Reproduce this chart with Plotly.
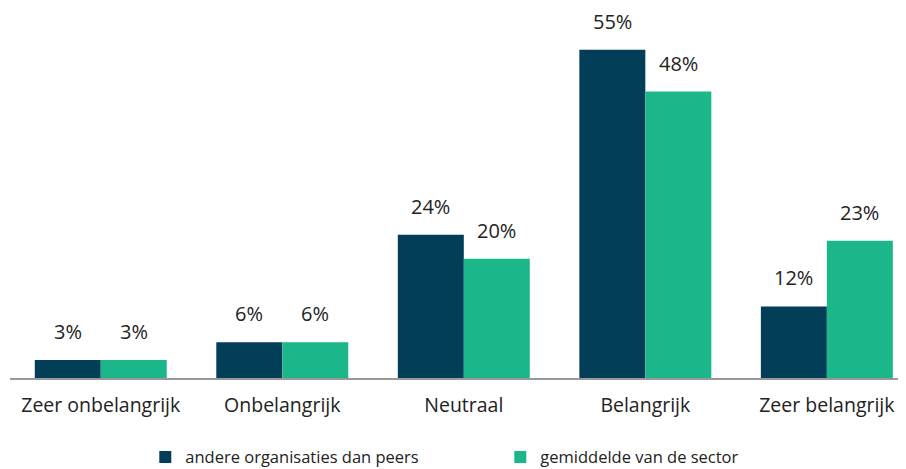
import plotly.graph_objects as go

categories = ["Zeer onbelangrijk", "Onbelangrijk", "Neutraal", "Belangrijk", "Zeer belangrijk"]
series_names = ["andere organisaties dan peers", "gemiddelde van de sector"]
peers_other = [3, 6, 24, 55, 12]
sector_avg = [3, 6, 20, 48, 23]
colors = ["#023E58", "#1CB68B"]
FONT = "Open Sans"

fig = go.Figure()
for name, vals, col in zip(series_names, [peers_other, sector_avg], colors):
    fig.add_trace(go.Bar(x=categories, y=vals, name=name, marker=dict(color=col, line=dict(width=0))))

annotations = []
for vals, shift in zip([peers_other, sector_avg], [-33, 33]):
    for c, v in zip(categories, vals):
        annotations.append(dict(x=c, y=v, xref="x", yref="y", text=f"{v}%", showarrow=False,
                                yanchor="bottom", yshift=13, xshift=shift,
                                font=dict(family=FONT, size=20, color="#222")))

fig.update_layout(
    width=898, height=461,
    margin=dict(l=2, r=0, t=0, b=91, autoexpand=False),
    paper_bgcolor="white", plot_bgcolor="white",
    barmode="group", bargap=0.273, bargroupgap=0,
    font=dict(family=FONT, size=18, color="#222"),
    xaxis=dict(range=[-0.5, 4.436], showline=True, linecolor="#999", linewidth=2,
               ticks="", tickfont=dict(size=19.5, color="#222"), showgrid=False,
               ticklabelstandoff=9),
    yaxis=dict(range=[0, 62.0], visible=False, showgrid=False),
    legend=dict(orientation="h", x=0.151, xanchor="left", y=-0.214, yanchor="middle",
                font=dict(size=16.5, color="#222"), entrywidth=310, entrywidthmode="pixels",
                itemwidth=30),
    annotations=annotations,
    showlegend=True,
)
fig.write_html("out.html")
